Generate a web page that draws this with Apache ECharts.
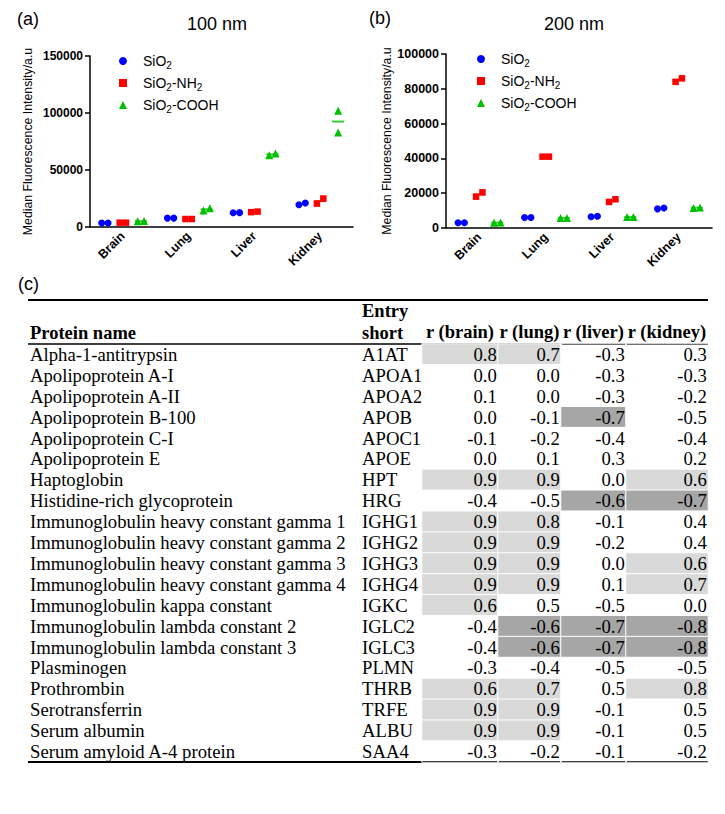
<!DOCTYPE html>
<html><head><meta charset="utf-8">
<script src="https://cdn.jsdelivr.net/npm/echarts@6/dist/echarts.min.js"></script>
<style>html,body{margin:0;padding:0;background:#fff}#c{width:725px;height:814px}</style>
</head><body><div id="c"></div>
<script>
// ---------- DATA ----------
const categories = ['Brain', 'Lung', 'Liver', 'Kidney'];
const seriesNames = ['SiO2', 'SiO2-NH2', 'SiO2-COOH'];

// (a) 100 nm, two replicates per organ
const a_SiO2_rep1 = [3500, 7800, 12500, 19500];
const a_SiO2_rep2 = [3500, 7800, 12600, 21000];
const a_NH2_rep1  = [3800, 7000, 13000, 20500];
const a_NH2_rep2  = [3800, 7000, 13500, 25000];
const a_COOH_rep1 = [5000, 14500, 63000, 83000];
const a_COOH_rep2 = [5200, 16500, 64500, 102000];
const a_yTicks = [0, 50000, 100000, 150000];

// (b) 200 nm
const b_SiO2_rep1 = [3000, 6000, 6500, 11000];
const b_SiO2_rep2 = [3000, 6000, 6800, 11500];
const b_NH2_rep1  = [18000, 41000, 15000, 84000];
const b_NH2_rep2  = [20500, 41000, 16500, 86000];
const b_COOH_rep1 = [3000, 5800, 6300, 11500];
const b_COOH_rep2 = [3200, 5800, 6300, 11800];
const b_yTicks = [0, 20000, 40000, 60000, 80000, 100000];

// (c) table
const proteinNames = ['Alpha-1-antitrypsin','Apolipoprotein A-I','Apolipoprotein A-II','Apolipoprotein B-100',
  'Apolipoprotein C-I','Apolipoprotein E','Haptoglobin','Histidine-rich glycoprotein',
  'Immunoglobulin heavy constant gamma 1','Immunoglobulin heavy constant gamma 2',
  'Immunoglobulin heavy constant gamma 3','Immunoglobulin heavy constant gamma 4',
  'Immunoglobulin kappa constant','Immunoglobulin lambda constant 2','Immunoglobulin lambda constant 3',
  'Plasminogen','Prothrombin','Serotransferrin','Serum albumin','Serum amyloid A-4 protein'];
const entryShort = ['A1AT','APOA1','APOA2','APOB','APOC1','APOE','HPT','HRG','IGHG1','IGHG2','IGHG3','IGHG4',
  'IGKC','IGLC2','IGLC3','PLMN','THRB','TRFE','ALBU','SAA4'];
const tableHeaders = ['r (brain)', 'r (lung)', 'r (liver)', 'r (kidney)'];
const rBrain  = [0.8, 0.0, 0.1, 0.0, -0.1, 0.0, 0.9, -0.4, 0.9, 0.9, 0.9, 0.9, 0.6, -0.4, -0.4, -0.3, 0.6, 0.9, 0.9, -0.3];
const rLung   = [0.7, 0.0, 0.0, -0.1, -0.2, 0.1, 0.9, -0.5, 0.8, 0.9, 0.9, 0.9, 0.5, -0.6, -0.6, -0.4, 0.7, 0.9, 0.9, -0.2];
const rLiver  = [-0.3, -0.3, -0.3, -0.7, -0.4, 0.3, 0.0, -0.6, -0.1, -0.2, 0.0, 0.1, -0.5, -0.7, -0.7, -0.5, 0.5, -0.1, -0.1, -0.1];
const rKidney = [0.3, -0.3, -0.2, -0.5, -0.4, 0.2, 0.6, -0.7, 0.4, 0.4, 0.6, 0.7, 0.0, -0.8, -0.8, -0.5, 0.8, 0.5, 0.5, -0.2];

// ---------- STYLE / LAYOUT ----------
const SANS = 'Liberation Sans', SERIF = 'Liberation Serif';
const colors = ['#0000ff', '#ff0000', '#00c000'];
const symbols = ['circle', 'rect', 'triangle'];
const symSizes = [7, 6.5, 8];
const groupOffsets = [-18, 0, 18];
const colEdges = [422, 498, 561, 626, 708];
const tableTop = 344, tableBottom = 762;

const chart = echarts.init(document.getElementById('c'), null, {renderer: 'svg'});

function scatterPanel(idx, reps, ticks) {
  const max = ticks[ticks.length - 1];
  const out = [];
  reps.forEach((pair, g) => {
    const [r1, r2] = pair;
    const pts = [], means = [];
    categories.forEach((c, i) => {
      const lo = Math.min(r1[i], r2[i]), hi = Math.max(r1[i], r2[i]);
      const spread = (hi - lo) / max < 0.08 ? 3.2 : 0;
      pts.push({value: [c, lo], symbolOffset: [groupOffsets[g] - spread, 0]});
      pts.push({value: [c, hi], symbolOffset: [groupOffsets[g] + spread, 0]});
      means.push({value: [c, (r1[i] + r2[i]) / 2], symbolOffset: [groupOffsets[g], 0]});
    });
    out.push({type: 'scatter', name: seriesNames[g] + ' mean', xAxisIndex: idx, yAxisIndex: idx,
      symbol: 'rect', symbolSize: [12, 2], itemStyle: {color: colors[g]}, data: means, z: 2, silent: true});
    out.push({type: 'scatter', name: seriesNames[g], xAxisIndex: idx, yAxisIndex: idx,
      symbol: symbols[g], symbolSize: symSizes[g], symbolKeepAspect: true, itemStyle: {color: colors[g], opacity: 1},
      data: pts, z: 3, silent: true});
  });
  return out;
}

function panelAxes(idx, ticks, fs, nameGap) {
  const x = {gridIndex: idx, type: 'category', data: categories, boundaryGap: true,
    axisLine: {lineStyle: {color: '#000', width: 1.5}},
    axisTick: {alignWithLabel: true, length: 5, lineStyle: {color: '#000', width: 1.5}},
    axisLabel: {rotate: 45, interval: 0, margin: 7, color: '#000', fontFamily: SANS, fontWeight: 'bold', fontSize: 12.5},
    splitLine: {show: false}};
  const y = {gridIndex: idx, type: 'value', min: ticks[0], max: ticks[ticks.length - 1], interval: ticks[1] - ticks[0],
    name: 'Median Fluorescence Intensity/a.u', nameLocation: 'middle', nameGap: nameGap,
    nameTextStyle: {fontFamily: SANS, fontSize: 12.3, color: '#000'},
    axisLine: {show: true, lineStyle: {color: '#000', width: 1.5}},
    axisTick: {show: true, length: 5, lineStyle: {color: '#000', width: 1.5}},
    axisLabel: {margin: 7, color: '#000', fontFamily: SANS, fontWeight: 'bold', fontSize: fs, formatter: v => String(v)},
    splitLine: {show: false}};
  return [x, y];
}

const [ax, ay] = panelAxes(0, a_yTicks, 12, 56);
const [bx, by] = panelAxes(1, b_yTicks, 12.5, 51);

const grids = [
  {left: 90, top: 56, width: 263, height: 171},
  {left: 446, top: 54, width: 266, height: 174}
];
const xAxes = [ax, bx];
const yAxes = [ay, by];
const series = [
  ...scatterPanel(0, [[a_SiO2_rep1, a_SiO2_rep2], [a_NH2_rep1, a_NH2_rep2], [a_COOH_rep1, a_COOH_rep2]], a_yTicks),
  ...scatterPanel(1, [[b_SiO2_rep1, b_SiO2_rep2], [b_NH2_rep1, b_NH2_rep2], [b_COOH_rep1, b_COOH_rep2]], b_yTicks)
];

// table columns
const tableValues = [rBrain, rLung, rLiver, rKidney];
const heatIdx = [];
tableValues.forEach((vals, k) => {
  const gi = grids.length;
  grids.push({left: colEdges[k], width: colEdges[k + 1] - colEdges[k], top: tableTop, height: tableBottom - tableTop});
  const xi = xAxes.length;
  xAxes.push({gridIndex: gi, type: 'category', data: [tableHeaders[k]], position: 'top',
    axisLine: {show: false}, axisTick: {show: false}, splitLine: {show: false},
    axisLabel: {margin: 3, color: '#000', fontFamily: SERIF, fontWeight: 'bold', fontSize: 18.5}});
  const yi = yAxes.length;
  yAxes.push({gridIndex: gi, type: 'category', data: proteinNames, inverse: true, position: 'left',
    axisLine: {show: false}, axisTick: {show: false}, splitLine: {show: false},
    axisLabel: {show: k === 0, interval: 0, align: 'left', margin: colEdges[0] - 30,
      color: '#000', fontFamily: SERIF, fontSize: 18.7}});
  if (k === 0) {
    yAxes.push({gridIndex: gi, type: 'category', data: entryShort, inverse: true, position: 'left', offset: 0,
      axisLine: {show: false}, axisTick: {show: false}, splitLine: {show: false},
      axisLabel: {interval: 0, align: 'left', margin: colEdges[0] - 362,
        color: '#000', fontFamily: SERIF, fontSize: 18.7}});
  }
  heatIdx.push(series.length);
  series.push({type: 'heatmap', xAxisIndex: xi, yAxisIndex: yi, silent: true,
    data: vals.map((v, i) => [0, i, v]),
    itemStyle: {borderColor: '#fff', borderWidth: 1},
    label: {show: true, position: 'insideRight', distance: 2, color: '#000', fontFamily: SERIF, fontSize: 18.7,
      formatter: p => p.value[2].toFixed(1)},
    emphasis: {disabled: true}});
});

const legendText = {fontFamily: SANS, fontSize: 14, lineHeight: 18, color: '#000',
  rich: {g: {width: 11, fontSize: 14, lineHeight: 18},
         s: {fontFamily: SANS, fontSize: 10, lineHeight: 10, verticalAlign: 'bottom', color: '#000'}}};
const legendFmt = n => '{g| }' + n.replace(/2/g, '{s|2}');

function txt(text, x, y, font, align, vAlign) {
  return {type: 'text', x: x, y: y, silent: true,
    style: {text: text, font: font, fill: '#000', align: align || 'left', verticalAlign: vAlign || 'middle',
      textAlign: align || 'left', textVerticalAlign: vAlign || 'middle'}};
}
function rule(y, w) {
  return {type: 'line', silent: true, shape: {x1: 28, y1: y, x2: 708, y2: y}, style: {stroke: '#000', lineWidth: w}};
}

chart.setOption({
  animation: false,
  backgroundColor: '#fff',
  grid: grids,
  xAxis: xAxes,
  yAxis: yAxes,
  legend: [
    {orient: 'vertical', left: 114, top: 47, itemWidth: 8, itemHeight: 8, itemGap: 4, selectedMode: false,
      data: seriesNames, formatter: legendFmt, textStyle: legendText},
    {orient: 'vertical', left: 472, top: 45, itemWidth: 8, itemHeight: 8, itemGap: 4, selectedMode: false,
      data: seriesNames, formatter: legendFmt, textStyle: legendText}
  ],
  visualMap: {type: 'piecewise', show: false, seriesIndex: heatIdx, dimension: 2,
    pieces: [{gte: 0.6, color: '#d9d9d9'}, {lte: -0.6, color: '#a6a6a6'}, {gt: -0.6, lt: 0.6, color: 'rgba(255,255,255,0)'}]},
  graphic: [
    txt('(a)', 17, 19, '18px "Liberation Sans"'),
    txt('(b)', 369, 18, '18px "Liberation Sans"'),
    txt('(c)', 18, 284, '18px "Liberation Sans"'),
    txt('100 nm', 217, 24, '18px "Liberation Sans"', 'center'),
    txt('200 nm', 574, 24, '18px "Liberation Sans"', 'center'),
    txt('Protein name', 30, 333, 'bold 18.5px "Liberation Serif"'),
    txt('Entry', 362, 311, 'bold 18.5px "Liberation Serif"'),
    txt('short', 362, 333, 'bold 18.5px "Liberation Serif"'),
    rule(300, 2), rule(344, 1.5), rule(762, 2)
  ],
  series: series
});
</script></body></html>
